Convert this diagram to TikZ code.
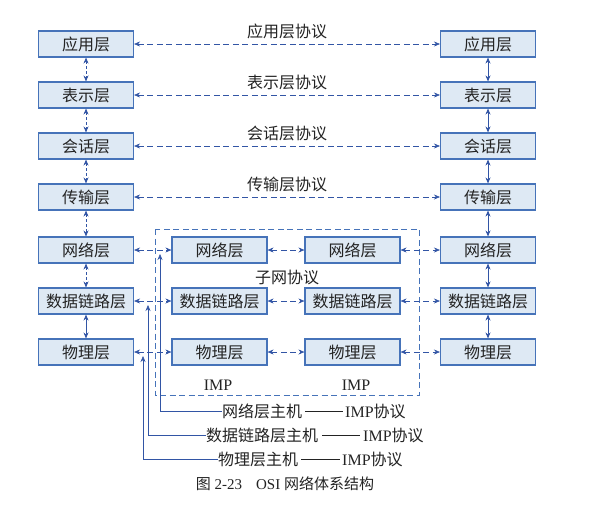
\documentclass[tikz,border=0pt]{standalone}
\usepackage{fontspec}
\setmainfont{Liberation Serif}
\newfontfamily\cjk{Noto Sans CJK SC}
\usetikzlibrary{arrows.meta,positioning}
\definecolor{BoxBlue}{RGB}{70,115,185}
\definecolor{BoxFill}{RGB}{222,233,244}
\definecolor{ArrowBlue}{RGB}{50,85,165}
\definecolor{TextGrey}{RGB}{35,35,35}

\begin{document}
\begin{tikzpicture}[x=1pt,y=-1pt,
    layer/.style={draw=BoxBlue,fill=BoxFill,line width=1.1pt,minimum width=95pt,minimum height=26pt,
        inner sep=0pt,text=TextGrey,font=\cjk\fontsize{16}{18}\selectfont},
    lbl/.style={inner sep=0pt,text=TextGrey,font=\fontsize{16}{18}\selectfont},
    tip/.style={{Stealth[length=6pt,width=5pt]}-{Stealth[length=6pt,width=5pt]}},
    peer/.style={ArrowBlue,semithick,dash pattern=on 6pt off 3.5pt,tip},
    updown/.style={ArrowBlue,thick,tip},
    hostline/.style={ArrowBlue,semithick,-{Stealth[length=6pt,width=5pt]}}]

    \useasboundingbox (0,0) rectangle (612,525);

    % left host stack
    \node[layer] (la)  at (86,44)  {应用层};
    \node[layer] (lp)  at (86,95)  {表示层};
    \node[layer] (ls)  at (86,146) {会话层};
    \node[layer] (lt)  at (86,197) {传输层};
    \node[layer] (ln)  at (86,250) {网络层};
    \node[layer] (ld)  at (86,301) {数据链路层};
    \node[layer] (lph) at (86,352) {物理层};

    % right host stack
    \node[layer] (ra)  at (488,44)  {应用层};
    \node[layer] (rp)  at (488,95)  {表示层};
    \node[layer] (rs)  at (488,146) {会话层};
    \node[layer] (rt)  at (488,197) {传输层};
    \node[layer] (rn)  at (488,250) {网络层};
    \node[layer] (rd)  at (488,301) {数据链路层};
    \node[layer] (rph) at (488,352) {物理层};

    % the two IMPs
    \draw[BoxBlue,thick,dash pattern=on 6pt off 3.5pt] (155,229) rectangle (419,395);
    \node[layer] (mln)  at (219.5,250) {网络层};
    \node[layer] (mld)  at (219.5,301) {数据链路层};
    \node[layer] (mlph) at (219.5,352) {物理层};
    \node[layer] (mrn)  at (352.5,250) {网络层};
    \node[layer] (mrd)  at (352.5,301) {数据链路层};
    \node[layer] (mrph) at (352.5,352) {物理层};
    \node[lbl] (impl) at (218,385) {IMP};
    \node[lbl] (impr) at (356,385) {IMP};
    \node[lbl,font=\cjk\fontsize{16}{18}\selectfont] (subnet) at (287,277) {子网协议};

    % vertical arrows
    \draw[updown,dash pattern=on 3pt off 2pt] (la) -- (lp);
    \draw[updown,dash pattern=on 3pt off 2pt] (lp) -- (ls);
    \draw[updown,dash pattern=on 3pt off 2pt] (ls) -- (lt);
    \draw[updown,dash pattern=on 3pt off 2pt] (lt) -- (ln);
    \draw[updown,dash pattern=on 3pt off 2pt] (ln) -- (ld);
    \draw[updown] (ld) -- (lph);
    \draw[updown] (ra) -- (rp);
    \draw[updown] (rp) -- (rs);
    \draw[updown] (rs) -- (rt);
    \draw[updown] (rt) -- (rn);
    \draw[updown] (rn) -- (rd);
    \draw[updown] (rd) -- (rph);

    % peer protocols
    \draw[peer] (la) -- node[lbl,above=5pt,font=\cjk\fontsize{16}{18}\selectfont] {应用层协议} (ra);
    \draw[peer] (lp) -- node[lbl,above=5pt,font=\cjk\fontsize{16}{18}\selectfont] {表示层协议} (rp);
    \draw[peer] (ls) -- node[lbl,above=5pt,font=\cjk\fontsize{16}{18}\selectfont] {会话层协议} (rs);
    \draw[peer] (lt) -- node[lbl,above=5pt,font=\cjk\fontsize{16}{18}\selectfont] {传输层协议} (rt);
    \draw[peer] (ln) -- (mln);
    \draw[peer] (mln) -- (mrn);
    \draw[peer] (mrn) -- (rn);
    \draw[peer] (ld) -- (mld);
    \draw[peer] (mld) -- (mrd);
    \draw[peer] (mrd) -- (rd);
    \draw[peer] (lph) -- (mlph);
    \draw[peer] (mlph) -- (mrph);
    \draw[peer] (mrph) -- (rph);

    % host - IMP protocols
    \coordinate (tn) at (160,254);
    \coordinate (td) at (148,305);
    \coordinate (tp) at (143,356);
    \node[lbl,anchor=west,font=\cjk\fontsize{16}{18}\selectfont] (hn) at (222,411) {网络层主机};
    \node[lbl,anchor=west,font=\cjk\fontsize{16}{18}\selectfont] (hd) at (206,435) {数据链路层主机};
    \node[lbl,anchor=west,font=\cjk\fontsize{16}{18}\selectfont] (hp) at (218,459) {物理层主机};
    \node[lbl,anchor=west] (pn) at (345,411) {IMP{\cjk 协议}};
    \node[lbl,anchor=west] (pd) at (363,435) {IMP{\cjk 协议}};
    \node[lbl,anchor=west] (pp) at (342,459) {IMP{\cjk 协议}};
    \draw[hostline] (hn.west) -| (tn);
    \draw[hostline] (hd.west) -| (td);
    \draw[hostline] (hp.west) -| (tp);
    \draw[TextGrey,semithick] (hn.east) ++(3,0) -- ([xshift=-2pt]pn.west);
    \draw[TextGrey,semithick] (hd.east) ++(4,0) -- ([xshift=-3pt]pd.west);
    \draw[TextGrey,semithick] (hp.east) ++(3,0) -- ([xshift=-2pt]pp.west);

    % caption
    \node[lbl,font=\fontsize{15}{17}\selectfont] (cap) at (285,484)
        {{\cjk 图} 2-23\hspace{14pt}OSI {\cjk 网络体系结构}};

\end{tikzpicture}
\end{document}
